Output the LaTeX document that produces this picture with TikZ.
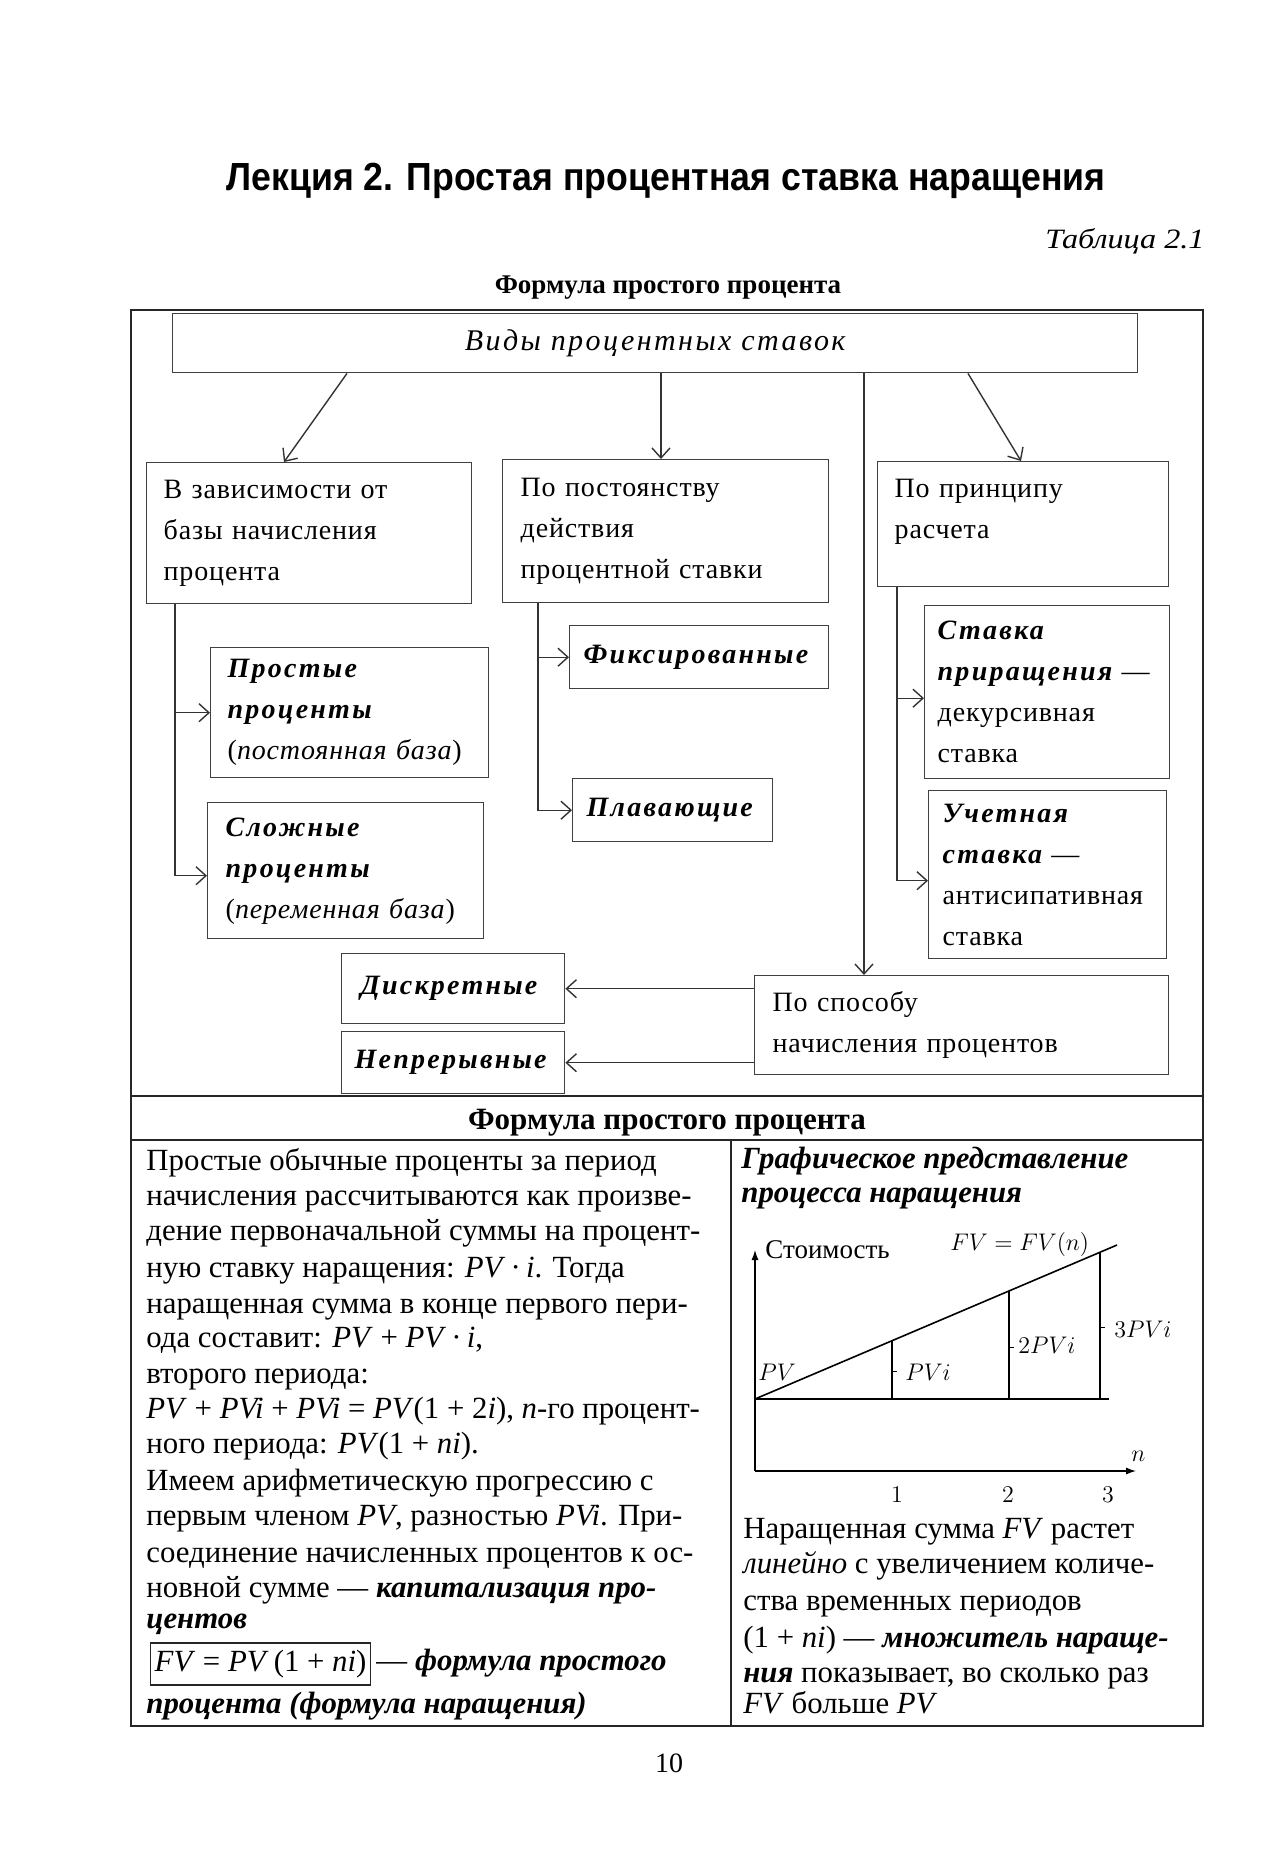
\documentclass[tikz,border=0pt]{standalone}
\usepackage{fontspec}
\setmainfont{Liberation Serif}
\newfontfamily\titlefont[FakeStretch=0.91]{Liberation Sans}
\newfontfamily\tabfont[FakeStretch=1.15]{Liberation Serif}
\newfontfamily\dgfont[LetterSpace=3]{Liberation Serif}
\newfontfamily\dgwide[LetterSpace=8]{Liberation Serif}
\usetikzlibrary{arrows.meta}
\newcommand{\dgsize}{\fontsize{14}{20.5}\selectfont}
\newcommand{\bsize}{\fontsize{15.4}{17.75}\selectfont}
\newcommand{\bfit}[1]{\textbf{\textit{#1}}}
\newcommand{\dgbi}[1]{{\dgwide\bfseries\itshape #1}}
\tikzset{
  dbox/.style={draw=black!75, line width=0.7pt, rectangle, anchor=north west,
    inner ysep=0pt, align=left, font=\dgfont\dgsize},
  arr/.style={draw=black!80, line width=0.7pt, -{Straight Barb[length=5pt,width=9pt]}},
  tline/.style={draw=black!85, line width=0.7pt},
  body/.style={anchor=base west, inner sep=0pt, font=\bsize},
  glab/.style={anchor=base west, inner sep=0pt, font=\fontsize{12.5}{15}\selectfont},
  gnum/.style={anchor=base, inner sep=0pt, font=\fontsize{13}{15}\selectfont},
}
\begin{document}
\begin{tikzpicture}[x=0.5pt,y=-0.5pt]
\useasboundingbox (0,0) rectangle (1288,1876);
\fill[white] (0,0) rectangle (1288,1876);

% headings
\node[anchor=base, inner sep=0pt, font=\titlefont\fontsize{19.6}{22}\selectfont\bfseries] (title) at (666,190) {Лекция 2. Простая процентная ставка наращения};
\node[anchor=base east, inner sep=0pt, font=\tabfont\fontsize{14}{16}\selectfont\itshape] (tabno) at (1205,248) {Таблица 2.1};
\node[anchor=base, inner sep=0pt, font=\fontsize{13.5}{16}\selectfont\bfseries] (caption) at (668,293) {Формула простого процента};

% table frame
\draw[tline] (131,310) rectangle (1203,1726);
\draw[tline, line width=1pt] (131,1096) -- (1203,1096);
\draw[tline] (131,1140) -- (1203,1140);
\draw[tline] (731,1140) -- (731,1726);

% diagram boxes
\node[dbox, minimum width=482.5pt, minimum height=29.5pt, align=center, inner xsep=0pt, font=\dgwide\fontsize{15}{18}\selectfont\itshape] (top) at (172,313) {Виды процентных ставок};
\node[dbox, text width=145.5pt, minimum height=70.5pt, inner xsep=8.5pt] (b1) at (146,462) {В зависимости от\\базы начисления\\процента};
\node[dbox, text width=145pt, minimum height=71.5pt, inner xsep=9pt] (b2) at (502,459) {По постоянству\\действия\\процентной ставки};
\node[dbox, text width=128.5pt, minimum height=62.5pt, inner xsep=8.5pt] (b3) at (877,461) {По принципу\\расчета\rule[-15pt]{0pt}{15pt}};
\node[dbox, text width=122pt, minimum height=65pt, inner xsep=8.5pt] (simple) at (210,647) {\dgbi{Простые}\\\dgbi{проценты}\\(\textit{постоянная база})};
\node[dbox, text width=120pt, minimum height=68pt, inner xsep=9pt] (compound) at (207,802) {\dgbi{Сложные}\\\dgbi{проценты}\\(\textit{переменная база})};
\node[dbox, text width=115.5pt, minimum height=31.5pt, inner xsep=7pt] (fix) at (569,625) {\dgbi{Фиксированные}};
\node[dbox, text width=86pt, minimum height=31.5pt, inner xsep=7pt] (float) at (572,778) {\dgbi{Плавающие}};
\node[dbox, text width=109.5pt, minimum height=86.5pt, inner xsep=6.5pt] (s1) at (924,605) {\dgbi{Ставка}\\\dgbi{приращения} —\\декурсивная\\ставка};
\node[dbox, text width=105pt, minimum height=84pt, inner xsep=7pt] (s2) at (928,790) {\dgbi{Учетная}\\\dgbi{ставка} —\\антисипативная\\ставка};
\node[dbox, text width=92.5pt, minimum height=35pt, inner xsep=9.5pt] (disc) at (341,953) {\dgbi{Дискретные}};
\node[dbox, text width=98.5pt, minimum height=31pt, inner xsep=6.5pt] (cont) at (341,1031) {\dgbi{Непрерывные}};
\node[dbox, text width=189pt, minimum height=49.5pt, inner xsep=9pt] (sp) at (754,975) {По способу\\начисления процентов};

% diagram connectors
\draw[arr] (top.south -| 347,0) -- (b1.north -| 284,0);
\draw[arr] (top.south -| 661,0) -- (b2.north -| 661,0);
\draw[arr] (top.south -| 864,0) -- (sp.north -| 864,0);
\draw[arr] (top.south -| 968,0) -- (b3.north -| 1021,0);
\draw[arr] (b1.south -| 175,0) |- (simple.west);
\draw[arr] (b1.south -| 175,0) |- ([yshift=-2.5pt]compound.west);
\draw[arr] (b2.south -| 538,0) |- (fix.west);
\draw[arr] (b2.south -| 538,0) |- (float.west);
\draw[arr] (b3.south -| 897,0) |- ([yshift=-3pt]s1.west);
\draw[arr] (b3.south -| 897,0) |- ([yshift=-3pt]s2.west);
\draw[arr] (sp.west |- disc.east) -- (disc.east);
\draw[arr] (sp.west |- cont.east) -- (cont.east);

% lower section header
\node[anchor=base, inner sep=0pt, font=\fontsize{15.5}{18}\selectfont\bfseries] (hdr) at (667,1129) {Формула простого процента};

% left column
\node[body] (L1) at (146,1170) {Простые обычные проценты за период};
\node[body] (L2) at (146,1205) {начисления рассчитываются как произве-};
\node[body] (L3) at (146,1240) {дение первоначальной суммы на процент-};
\node[body] (L4) at (146,1277) {ную ставку наращения: \textit{PV}\,·\,\textit{i}. Тогда};
\node[body] (L5) at (146,1313) {наращенная сумма в конце первого пери-};
\node[body] (L6) at (146,1347) {ода составит: \textit{PV} + \textit{PV}\,·\,\textit{i},};
\node[body] (L7) at (146,1383) {второго периода:};
\node[body] (L8) at (146,1418) {\textit{PV} + \textit{PVi} + \textit{PVi} = \textit{PV}(1 + 2\textit{i}), \textit{n}-го процент-};
\node[body] (L9) at (146,1453) {ного периода: \textit{PV}(1 + \textit{ni}).};
\node[body] (L10) at (146,1490) {Имеем арифметическую прогрессию с};
\node[body] (L11) at (146,1525) {первым членом \textit{PV}, разностью \textit{PVi}. При-};
\node[body] (L12) at (146,1562) {соединение начисленных процентов к ос-};
\node[body] (L13) at (146,1597) {новной сумме — \bfit{капитализация про-}};
\node[body] (L14) at (146,1628) {\bfit{центов}};
\node[draw=black!85, line width=0.7pt, anchor=west, inner xsep=2pt, minimum height=21pt, font=\bsize] (fb) at (150,1664) {\textit{FV} = \textit{PV}\,(1 + \textit{ni})};
\node[body] (L15) at (376,1670) {— \bfit{формула простого}};
\node[body] (L16) at (146,1713) {\bfit{процента (формула наращения)}};

% right column
\node[body] (R1) at (741,1168) {\bfit{Графическое представление}};
\node[body] (R2) at (741,1202) {\bfit{процесса наращения}};

% graph
\coordinate (O) at (755,1471);
\coordinate (P0) at (755,1399);
\draw[line width=0.6pt, -{Latex[length=5pt,width=3.5pt]}] (O) -- (755,1250);
\draw[line width=0.6pt, -{Latex[length=5pt,width=3.5pt]}] (O) -- (1136,1471);
\draw[line width=1.4pt] (P0) -- (1109,1399);
\draw[line width=0.8pt] (P0) -- (1117,1245);
\draw[line width=0.6pt] (892,1399) -- (892,1341) (1009,1399) -- (1009,1291) (1100,1399) -- (1100,1253);
\draw[line width=0.5pt] (892,1371) -- (897,1371) (1009,1347) -- (1014,1347) (1100,1327) -- (1105,1327);
\node[anchor=base west, inner sep=0pt, font=\fontsize{13.5}{16}\selectfont] (cost) at (765,1258) {Стоимость};
\node[glab] (fvn) at (950,1250) {$FV = FV(n)$};
\node[glab] (pv) at (758,1380) {$PV$};
\node[glab] (pvi1) at (905,1380) {$PVi$};
\node[glab] (pvi2) at (1018,1353) {$2PVi$};
\node[glab] (pvi3) at (1114,1337) {$3PVi$};
\node[glab] (nlab) at (1131,1461) {$n$};
\node[gnum] (n1) at (897,1502) {$1$};
\node[gnum] (n2) at (1008,1502) {$2$};
\node[gnum] (n3) at (1108,1502) {$3$};

\node[body] (R3) at (743,1538) {Наращенная сумма \textit{FV} растет};
\node[body] (R4) at (743,1573) {\textit{линейно} с увеличением количе-};
\node[body] (R5) at (743,1610) {ства временных периодов};
\node[body] (R6) at (743,1647) {(1 + \textit{ni}) — \bfit{множитель нараще-}};
\node[body] (R7) at (743,1682) {\bfit{ния} показывает, во сколько раз};
\node[body] (R8) at (743,1713) {\textit{FV} больше \textit{PV}};

% page number
\node[anchor=base, inner sep=0pt, font=\fontsize{14}{16}\selectfont] (pg) at (669,1772) {10};
\end{tikzpicture}
\end{document}
